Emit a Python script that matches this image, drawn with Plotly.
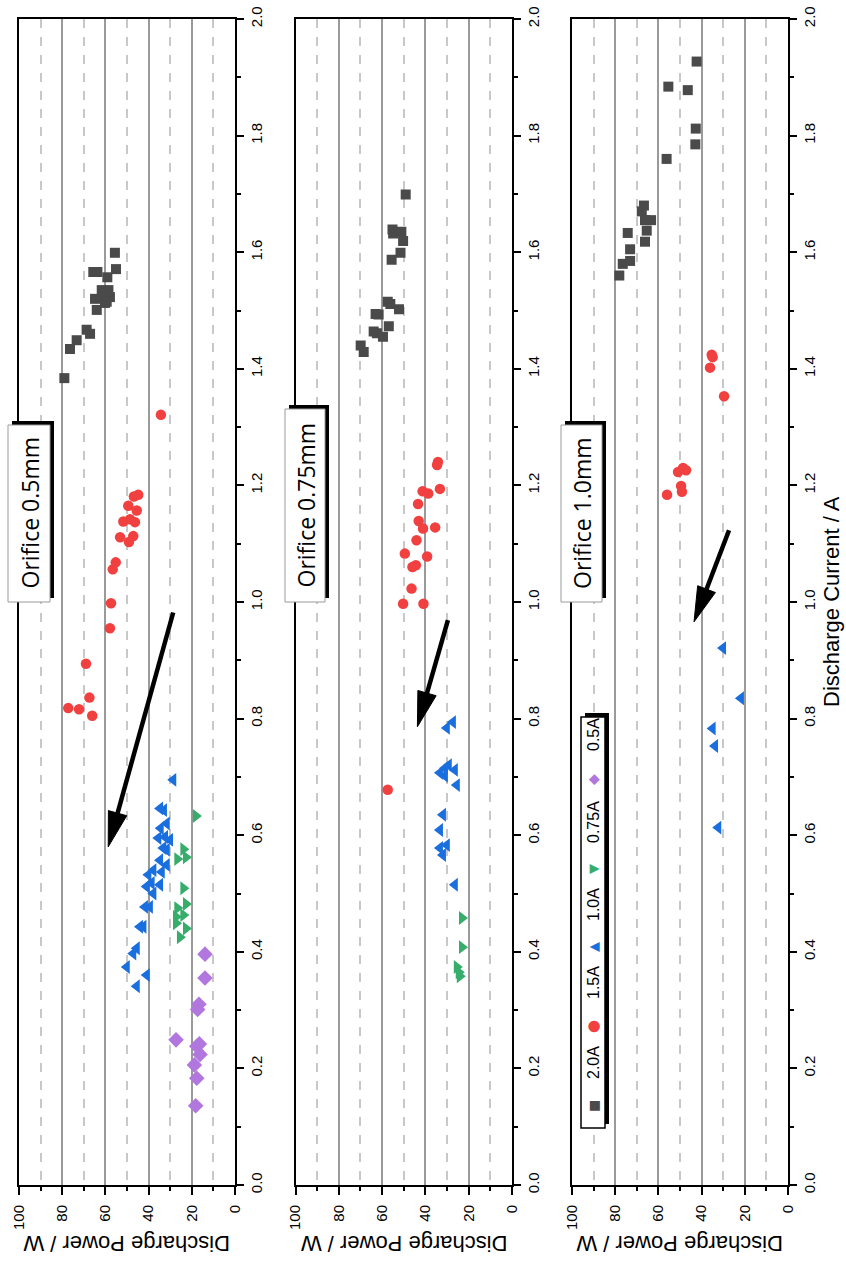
import math
import plotly.graph_objects as go

W, H = 846, 1261

# ---------------- data (Discharge Power / W, Discharge Current / A) ----------------
# Orifice 0.5 mm
o05_20A_P = [79.0, 76.4, 73.3, 68.7, 67.1, 64.0, 64.8, 60.2, 57.9, 61.7, 58.6, 61.0, 59.4, 59.1, 65.6, 63.7, 55.1, 55.6]
o05_20A_I = [1.384, 1.434, 1.449, 1.467, 1.460, 1.501, 1.520, 1.513, 1.523, 1.535, 1.535, 1.530, 1.515, 1.557, 1.566, 1.566, 1.571, 1.599]
o05_15A_P = [34.3, 44.8, 46.8, 49.4, 45.5, 51.7, 48.6, 46.3, 53.2, 47.1, 49.1, 55.2, 56.6, 57.4, 57.9, 69.0, 67.4, 77.2, 72.2, 66.1]
o05_15A_I = [1.321, 1.184, 1.181, 1.165, 1.157, 1.138, 1.142, 1.137, 1.111, 1.113, 1.103, 1.068, 1.056, 0.998, 0.955, 0.894, 0.836, 0.818, 0.816, 0.805]
o05_10A_P = [28.6, 34.7, 32.9, 31.6, 34.4, 35.5, 30.1, 32.4, 33.2, 31.6, 34.7, 31.6, 37.8, 40.1, 33.9, 40.9, 38.6, 34.7, 37.8, 41.7, 39.4, 44.0, 42.4, 45.5, 47.1, 50.1, 40.9, 45.5]
o05_10A_I = [0.695, 0.646, 0.643, 0.620, 0.612, 0.595, 0.592, 0.597, 0.578, 0.575, 0.557, 0.549, 0.540, 0.532, 0.537, 0.512, 0.518, 0.515, 0.500, 0.477, 0.477, 0.443, 0.443, 0.406, 0.397, 0.374, 0.360, 0.341]
o05_075A_P = [18.1, 23.9, 22.7, 26.7, 23.9, 22.7, 26.7, 23.9, 27.3, 27.3, 22.7, 25.5]
o05_075A_I = [0.633, 0.576, 0.562, 0.559, 0.509, 0.482, 0.475, 0.463, 0.460, 0.449, 0.440, 0.425]
o05_05A_P = [13.9, 13.9, 16.7, 17.3, 27.3, 16.5, 17.7, 16.2, 18.8, 17.7, 18.2]
o05_05A_I = [0.396, 0.355, 0.310, 0.301, 0.249, 0.242, 0.238, 0.224, 0.206, 0.183, 0.136]

# Orifice 0.75 mm
o075_20A_P = [49.1, 55.2, 54.9, 51.1, 50.3, 51.5, 55.6, 57.4, 56.2, 52.2, 61.6, 63.0, 56.9, 63.9, 62.4, 59.6, 69.9, 68.5]
o075_20A_I = [1.699, 1.639, 1.632, 1.635, 1.619, 1.599, 1.587, 1.515, 1.511, 1.502, 1.493, 1.494, 1.473, 1.464, 1.461, 1.455, 1.440, 1.429]
o075_15A_P = [34.6, 34.2, 33.3, 41.3, 38.7, 43.4, 43.1, 41.1, 35.5, 44.1, 49.5, 39.2, 44.4, 46.0, 46.4, 50.3, 40.9, 57.4]
o075_15A_I = [1.235, 1.240, 1.194, 1.190, 1.186, 1.168, 1.139, 1.126, 1.128, 1.106, 1.083, 1.078, 1.063, 1.060, 1.023, 0.997, 0.997, 0.678]
o075_10A_P = [27.3, 30.1, 31.0, 29.2, 26.4, 33.3, 31.0, 25.5, 31.9, 33.3, 30.1, 33.3, 31.9, 26.4]
o075_10A_I = [0.794, 0.784, 0.715, 0.720, 0.712, 0.707, 0.702, 0.686, 0.635, 0.609, 0.583, 0.578, 0.566, 0.515]
o075_075A_P = [23.1, 23.1, 25.5, 24.6, 24.1]
o075_075A_I = [0.458, 0.408, 0.374, 0.365, 0.358]

# Orifice 1.0 mm
o10_20A_P = [42.3, 55.4, 46.4, 42.7, 42.9, 56.2, 66.7, 67.7, 63.4, 66.2, 65.4, 74.2, 66.2, 73.1, 73.1, 76.5, 78.1]
o10_20A_I = [1.927, 1.884, 1.878, 1.812, 1.785, 1.760, 1.680, 1.670, 1.655, 1.655, 1.637, 1.633, 1.618, 1.605, 1.585, 1.580, 1.560]
o10_15A_P = [35.3, 34.9, 36.1, 29.6, 48.6, 50.9, 47.2, 49.5, 49.1, 56.0]
o10_15A_I = [1.424, 1.420, 1.402, 1.353, 1.230, 1.223, 1.226, 1.199, 1.189, 1.184]
o10_10A_P = [30.1, 21.8, 34.9, 33.8, 32.3]
o10_10A_I = [0.921, 0.835, 0.783, 0.753, 0.613]

# trend arrows: (tail P, tail I, head P, head I)
arrow_o05 = (28.6, 0.982, 58.7, 0.580)
arrow_o075 = (29.6, 0.969, 43.7, 0.786)
arrow_o10 = (27.3, 1.123, 43.5, 0.966)

panel_titles = ["Orifice 0.5mm", "Orifice 0.75mm", "Orifice 1.0mm"]
legend_labels = ["2.0A", "1.5A", "1.0A", "0.75A", "0.5A"]
power_ticks = [0, 20, 40, 60, 80, 100]
current_ticks = [0.0, 0.2, 0.4, 0.6, 0.8, 1.0, 1.2, 1.4, 1.6, 1.8, 2.0]

# ---------------- styles ----------------
COL = {"2.0A": "#4a4a4a", "1.5A": "#F14040", "1.0A": "#1A6FDF", "0.75A": "#37AD6B", "0.5A": "#B177DE"}
SYM = {"2.0A": "square", "1.5A": "circle", "1.0A": "triangle-left", "0.75A": "triangle-right", "0.5A": "diamond"}
SIZE = {"2.0A": 10, "1.5A": 10.5, "1.0A": 12, "0.75A": 12, "0.5A": 12}

panels = [
    {"series": {"2.0A": (o05_20A_P, o05_20A_I), "1.5A": (o05_15A_P, o05_15A_I), "1.0A": (o05_10A_P, o05_10A_I),
                "0.75A": (o05_075A_P, o05_075A_I), "0.5A": (o05_05A_P, o05_05A_I)}, "arrow": arrow_o05},
    {"series": {"2.0A": (o075_20A_P, o075_20A_I), "1.5A": (o075_15A_P, o075_15A_I), "1.0A": (o075_10A_P, o075_10A_I),
                "0.75A": (o075_075A_P, o075_075A_I)}, "arrow": arrow_o075},
    {"series": {"2.0A": (o10_20A_P, o10_20A_I), "1.5A": (o10_15A_P, o10_15A_I), "1.0A": (o10_10A_P, o10_10A_I)},
     "arrow": arrow_o10},
]

# pixel layout of the three plot areas
lefts = [19, 295.5, 572]
rights = [235, 512, 788]
top_px, bot_px = 19, 1185
P_RANGE = (100, 0)
I_RANGE = (0, 2)


def fx(px):
    return px / W


def fy(py):
    return 1 - py / H


def to_px(k, P, I):
    # same linear mapping as the panel's axes (domain + range set below)
    X = lefts[k] + (P - P_RANGE[0]) / (P_RANGE[1] - P_RANGE[0]) * (rights[k] - lefts[k])
    Y = bot_px - (I - I_RANGE[0]) / (I_RANGE[1] - I_RANGE[0]) * (bot_px - top_px)
    return X, Y


fig = go.Figure()
shapes = []
annotations = []
FONT = "Liberation Sans, Arial, sans-serif"

for k, pan in enumerate(panels):
    n = "" if k == 0 else str(k + 1)
    xa, ya = "x" + n, "y" + n
    for name, (P, I) in pan["series"].items():
        fig.add_trace(go.Scatter(
            x=P, y=I, mode="markers", name=name, showlegend=False,
            xaxis=xa, yaxis=ya,
            marker=dict(symbol=SYM[name], size=SIZE[name], color=COL[name], line=dict(width=0)),
        ))
    axis_common = dict(showline=True, linecolor="black", linewidth=2, mirror=True, automargin=False,
                       ticks="outside", tickwidth=2, tickcolor="black", zeroline=False)
    fig.layout["xaxis" + n] = dict(
        domain=[fx(lefts[k]), fx(rights[k])], anchor=ya, range=list(P_RANGE),
        tickmode="array", tickvals=power_ticks, ticktext=[str(v) for v in power_ticks],
        ticklen=8, tickangle=-90, tickfont=dict(family=FONT, size=15, color="black"),
        ticklabelstandoff=4,
        showgrid=True, gridcolor="#9a9a9a", gridwidth=1.5,
        minor=dict(dtick=10, tick0=0, ticks="outside", ticklen=4, tickwidth=2, tickcolor="black",
                   showgrid=True, gridcolor="#c8c8c8", gridwidth=1.5, griddash="dash"),
        **axis_common)
    fig.layout["yaxis" + n] = dict(
        domain=[fy(bot_px), fy(top_px)], anchor=xa, range=list(I_RANGE), side="right",
        tickmode="array", tickvals=current_ticks, ticktext=["%.1f" % v for v in current_ticks],
        ticklen=7, tickangle=-90, tickfont=dict(family=FONT, size=15, color="black"),
        showgrid=False,
        minor=dict(dtick=0.1, tick0=0, ticks="outside", ticklen=4, tickwidth=2, tickcolor="black", showgrid=False),
        **axis_common)

    # trend arrow: thick shaft + long narrow filled head
    tp, ti, hp, hi = pan["arrow"]
    tx, ty = to_px(k, tp, ti)
    hx, hy = to_px(k, hp, hi)
    L = math.hypot(hx - tx, hy - ty)
    ux, uy = (hx - tx) / L, (hy - ty) / L
    nx, ny = -uy, ux
    head_len, head_hw = 35, 9.5
    bx, by = hx - ux * head_len, hy - uy * head_len
    shapes.append(dict(type="line", xref="paper", yref="paper",
                       x0=fx(tx), y0=fy(ty), x1=fx(bx + ux * 3), y1=fy(by + uy * 3),
                       line=dict(color="black", width=4.5), layer="above"))
    pts = [(hx, hy), (bx + nx * head_hw, by + ny * head_hw), (bx - nx * head_hw, by - ny * head_hw)]
    path = "M " + " L ".join("%.5f,%.5f" % (fx(px), fy(py)) for px, py in pts) + " Z"
    shapes.append(dict(type="path", xref="paper", yref="paper", path=path,
                       fillcolor="black", line=dict(color="black", width=1), layer="above"))

    # power axis title (upside down)
    annotations.append(dict(x=fx((lefts[k] + rights[k]) / 2), y=fy(1244), xref="paper", yref="paper",
                            text="Discharge Power / W", showarrow=False, textangle=180,
                            font=dict(family=FONT, size=22, color="black"), xanchor="center", yanchor="middle"))

# panel title boxes with drop shadow
boxes = [(8, 50, 425, 602), (285, 325, 409, 602), (561, 602, 425, 602)]
for k, (x0, x1, y0, y1) in enumerate(boxes):
    shapes.append(dict(type="rect", xref="paper", yref="paper", x0=fx(x0 + 4), x1=fx(x1 + 4), y0=fy(y0 - 4), y1=fy(y1 - 4),
                       fillcolor="black", line=dict(width=0), layer="above"))
    shapes.append(dict(type="rect", xref="paper", yref="paper", x0=fx(x0), x1=fx(x1), y0=fy(y0), y1=fy(y1),
                       fillcolor="white", line=dict(color="#9a9a9a", width=1), layer="above"))
    annotations.append(dict(x=fx((x0 + x1) / 2), y=fy((y0 + y1) / 2), xref="paper", yref="paper",
                            text=panel_titles[k], showarrow=False, textangle=-90,
                            font=dict(family="Open Sans, sans-serif", size=23, color="black"),
                            xanchor="center", yanchor="middle"))

# legend box (panel 3)
lx0, lx1, ly0, ly1 = 581, 605, 717, 1128
shapes.append(dict(type="rect", xref="paper", yref="paper", x0=fx(lx0 + 4), x1=fx(lx1 + 4), y0=fy(ly0 - 4), y1=fy(ly1 - 4),
                   fillcolor="black", line=dict(width=0), layer="above"))
shapes.append(dict(type="rect", xref="paper", yref="paper", x0=fx(lx0), x1=fx(lx1), y0=fy(ly0), y1=fy(ly1),
                   fillcolor="white", line=dict(color="black", width=1.5), layer="above"))
glyphs = {"2.0A": "■", "1.5A": "●", "1.0A": "▲", "0.75A": "▼", "0.5A": "◆"}
glyph_size = {"2.0A": 13, "1.5A": 15, "1.0A": 13, "0.75A": 13, "0.5A": 14}
glyph_y = [1106, 1027, 947, 869, 780]
label_y = [1063, 983, 905, 822, 735]
lxc = (lx0 + lx1) / 2
for lab, gy, ty in zip(legend_labels, glyph_y, label_y):
    annotations.append(dict(x=fx(lxc), y=fy(gy), xref="paper", yref="paper", text=glyphs[lab], showarrow=False,
                            textangle=-90, font=dict(family="DejaVu Sans", size=glyph_size[lab], color=COL[lab]),
                            xanchor="center", yanchor="middle"))
    annotations.append(dict(x=fx(lxc), y=fy(ty), xref="paper", yref="paper", text=lab, showarrow=False,
                            textangle=-90, font=dict(family=FONT, size=16, color="black"),
                            xanchor="center", yanchor="middle"))

# current axis title
annotations.append(dict(x=fx(831), y=fy(602), xref="paper", yref="paper", text="Discharge Current / A",
                        showarrow=False, textangle=-90, font=dict(family=FONT, size=22, color="black"),
                        xanchor="center", yanchor="middle"))

fig.update_layout(width=W, height=H, margin=dict(l=0, r=0, t=0, b=0, autoexpand=False), autosize=False,
                  paper_bgcolor="white", plot_bgcolor="white", showlegend=False,
                  shapes=shapes, annotations=annotations)

fig.write_html("out.html", config={"displayModeBar": False})
